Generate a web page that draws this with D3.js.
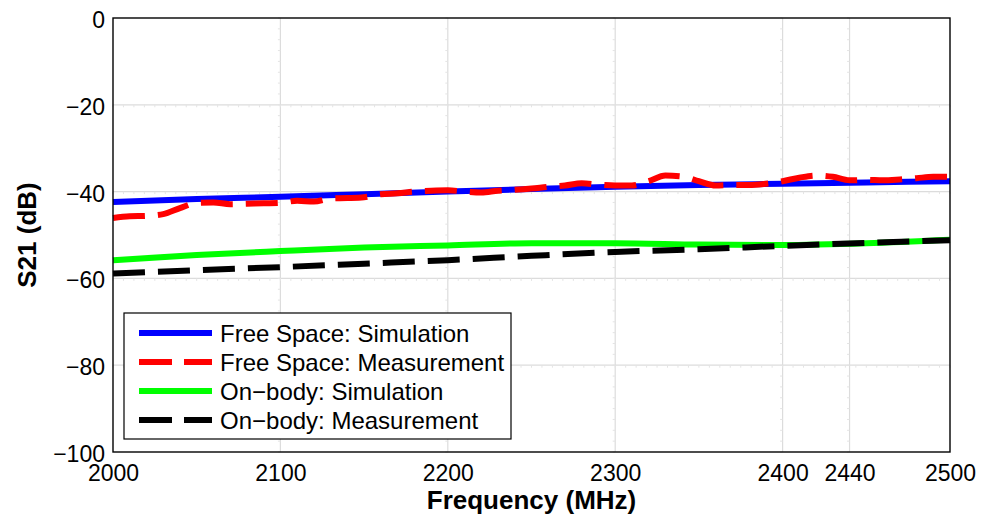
<!DOCTYPE html>
<html>
<head>
<meta charset="utf-8">
<script src="https://cdn.jsdelivr.net/npm/d3@7"></script>
<style>
  html, body { margin: 0; padding: 0; background: #fff; }
  svg { display: block; font-family: "Liberation Sans", Arial, Helvetica, sans-serif; }
</style>
</head>
<body>
<svg id="chart" width="982" height="520"></svg>
<script>
// Frequency sweeps (MHz)
const simFreq = [2000, 2050, 2100, 2150, 2200, 2250, 2300, 2350, 2400, 2450, 2500];
const measFreq = [2000, 2010, 2020, 2030, 2040, 2050, 2060, 2070, 2080, 2090,
                  2100, 2110, 2120, 2130, 2140, 2150, 2160, 2170, 2180, 2190,
                  2200, 2210, 2220, 2230, 2240, 2250, 2260, 2270, 2280, 2290,
                  2300, 2310, 2320, 2330, 2340, 2350, 2360, 2370, 2380, 2390,
                  2400, 2410, 2420, 2430, 2440, 2450, 2460, 2470, 2480, 2490, 2500];
const onBodyMeasFreq = [2000, 2050, 2100, 2150, 2200, 2250, 2300, 2350, 2400, 2450, 2500];

// S21 (dB)
const freeSpaceSim = [-42.4, -41.7, -41.2, -40.6, -40.0, -39.4, -38.9, -38.5, -38.2, -37.9, -37.6];
const freeSpaceMeas = [-46.1, -45.7, -45.6, -45.2, -43.8, -42.6, -42.5, -42.9, -42.8, -42.7,
                       -42.6, -42.1, -42.3, -41.6, -41.5, -41.3, -40.6, -40.4, -40.0, -39.8,
                       -39.7, -40.0, -40.2, -39.8, -39.6, -39.3, -38.9, -38.6, -38.1, -38.4,
                       -38.6, -38.6, -37.6, -36.3, -36.5, -37.6, -38.6, -38.5, -38.5, -38.2,
                       -37.6, -36.8, -36.3, -36.6, -37.4, -37.3, -37.4, -37.2, -36.9, -36.6, -36.6];
const onBodySim = [-55.8, -54.6, -53.7, -52.9, -52.4, -51.9, -51.9, -52.2, -52.3, -51.9, -51.1];
const onBodyMeas = [-58.9, -58.1, -57.4, -56.6, -55.8, -54.8, -53.9, -53.3, -52.5, -51.8, -51.2];

// Axis ticks
const xTicks = [2000, 2100, 2200, 2300, 2400, 2440, 2500];
const yTicks = [0, -20, -40, -60, -80, -100];

const seriesNames = ["Free Space: Simulation", "Free Space: Measurement",
                     "On\u2212body: Simulation", "On\u2212body: Measurement"];

const margin = { left: 113, right: 32, top: 18, bottom: 68 };
const W = 982, H = 520;
const svg = d3.select("#chart");

const x = d3.scaleLinear().domain([2000, 2500]).range([margin.left, W - margin.right]);
const y = d3.scaleLinear().domain([-100, 0]).range([H - margin.bottom, margin.top]);

const x0 = x.range()[0], x1 = x.range()[1];
const y0 = y.range()[0], y1 = y.range()[1];

// grid
const grid = svg.append("g").attr("stroke", "#dcdcdc").attr("stroke-width", 1.2);
grid.selectAll("line.gx").data(xTicks.slice(1, -1)).join("line")
  .attr("x1", d => x(d)).attr("x2", d => x(d)).attr("y1", y1).attr("y2", y0);
grid.selectAll("line.gy").data(yTicks.slice(1, -1)).join("line")
  .attr("y1", d => y(d)).attr("y2", d => y(d)).attr("x1", x0).attr("x2", x1);

// faint minor marks along grid lines
const minor = svg.append("g").attr("stroke", "#e4e4e4").attr("stroke-width", 1);
const xMinor = d3.range(2000, 2500.01, 6.25);
const yMinor = d3.range(-100, 0.01, 2.5);
yTicks.slice(1, -1).forEach(v => {
  minor.append("g").selectAll("line").data(xMinor).join("line")
    .attr("x1", d => x(d)).attr("x2", d => x(d))
    .attr("y1", y(v)).attr("y2", y(v) + 2.5);
});
xTicks.slice(1, -1).forEach(v => {
  minor.append("g").selectAll("line").data(yMinor).join("line")
    .attr("y1", d => y(d)).attr("y2", d => y(d))
    .attr("x1", x(v) - 2.5).attr("x2", x(v));
});

// series
const line = d3.line().x(d => x(d[0])).y(d => y(d[1])).curve(d3.curveMonotoneX);
const zip = (a, b) => a.map((v, i) => [v, b[i]]);

const series = [
  { pts: zip(simFreq, freeSpaceSim), color: "#0000ff", dash: null, w: 6 },
  { pts: zip(measFreq, freeSpaceMeas), color: "#ff0000", dash: "32,13", w: 6 },
  { pts: zip(simFreq, onBodySim), color: "#00ff00", dash: null, w: 6 },
  { pts: zip(onBodyMeasFreq, onBodyMeas), color: "#000000", dash: "32,13", w: 6 }
];

const plot = svg.append("g");
series.forEach(s => {
  plot.append("path")
    .attr("d", line(s.pts))
    .attr("fill", "none")
    .attr("stroke", s.color)
    .attr("stroke-width", s.w)
    .attr("stroke-dasharray", s.dash)
    .attr("stroke-linecap", "butt");
});

// frame
svg.append("rect")
  .attr("x", x0).attr("y", y1).attr("width", x1 - x0).attr("height", y0 - y1)
  .attr("fill", "none").attr("stroke", "#000").attr("stroke-width", 1.4);

// axes
const fmt = d => (d < 0 ? "\u2212" + Math.abs(d) : String(d));
const xAxis = svg.append("g").attr("transform", `translate(0,${y0})`)
  .call(d3.axisBottom(x).tickValues(xTicks).tickSize(0).tickFormat(d => String(d)));
xAxis.select(".domain").remove();
xAxis.selectAll("text")
  .attr("y", 29).attr("dy", 0)
  .attr("font-size", 23).attr("fill", "#000")
  .attr("font-family", "Liberation Sans, Arial, sans-serif");

const yAxis = svg.append("g").attr("transform", `translate(${x0},0)`)
  .call(d3.axisLeft(y).tickValues(yTicks).tickSize(0).tickFormat(fmt));
yAxis.select(".domain").remove();
yAxis.selectAll("text")
  .attr("x", -8).attr("dy", "0.35em")
  .attr("transform", "translate(0,1.5)")
  .attr("font-size", 23).attr("fill", "#000")
  .attr("font-family", "Liberation Sans, Arial, sans-serif");

// axis titles
svg.append("text")
  .attr("x", (x0 + x1) / 2).attr("y", 509)
  .attr("text-anchor", "middle")
  .attr("font-size", 26).attr("font-weight", "bold")
  .text("Frequency (MHz)");

svg.append("text")
  .attr("transform", `translate(36,${(y0 + y1) / 2}) rotate(-90)`)
  .attr("text-anchor", "middle")
  .attr("font-size", 26).attr("font-weight", "bold")
  .text("S21 (dB)");

// legend
const lg = svg.append("g").attr("transform", "translate(124,313)");
lg.append("rect").attr("width", 387).attr("height", 126)
  .attr("fill", "#fff").attr("stroke", "#000").attr("stroke-width", 1.2);
series.forEach((s, i) => {
  const cy = 20 + i * 29;
  lg.append("line")
    .attr("x1", 15).attr("x2", 88).attr("y1", cy).attr("y2", cy)
    .attr("stroke", s.color).attr("stroke-width", s.w)
    .attr("stroke-dasharray", s.dash ? "33,12" : null);
  lg.append("text")
    .attr("x", 96).attr("y", cy).attr("dy", "0.36em")
    .attr("font-size", 24).attr("fill", "#000")
    .text(seriesNames[i]);
});
</script>
</body>
</html>
